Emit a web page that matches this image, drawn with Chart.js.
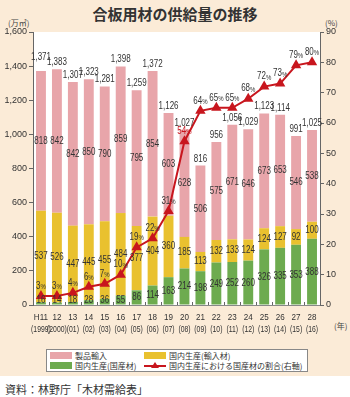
<!DOCTYPE html>
<html>
<head>
<meta charset="utf-8">
<script src="https://cdn.jsdelivr.net/npm/chart.js@4.4.1/dist/chart.umd.min.js"></script>
<style>
  body { margin:0; width:350px; height:397px; background:#fff; position:relative; overflow:hidden;
         font-family:"Noto Sans CJK JP", sans-serif; color:#333; }
  #bg { position:absolute; left:0; top:0; width:350px; height:376px; background:#fbebd7; }
  #title { position:absolute; top:3px; left:0; width:350px; text-align:center; font-size:15px; font-weight:bold; color:#333; }
  #wrap { position:absolute; left:0; top:0; width:350px; height:345px; }
  .unit { position:absolute; font-size:8px; color:#444; }
  #legend { position:absolute; left:46px; top:349px; width:260px; height:21px; background:#fff; border:1px solid #888; font-size:8px; }
  .item { position:absolute; display:flex; align-items:center; white-space:nowrap; }
  .sw { display:inline-block; width:22px; height:7px; margin-right:3px; }
  #src { position:absolute; left:5px; top:381px; font-size:11px; color:#333; }
</style>
</head>
<body>
<div id="bg"></div>
<div id="title">合板用材の供給量の推移</div>
<div class="unit" style="left:8px;top:17px">(万㎥)</div>
<div class="unit" style="left:325px;top:17px">(%)</div>
<div class="unit" style="left:334px;top:320px">(年)</div>
<div id="wrap"><canvas id="canvas"></canvas></div>
<div id="legend">
  <div class="item" style="left:3px;top:0px"><span class="sw" style="background:#e8a5aa"></span>製品輸入</div>
  <div class="item" style="left:97px;top:0px"><span class="sw" style="background:#e9c12f"></span>国内生産(輸入材)</div>
  <div class="item" style="left:3px;top:10px"><span class="sw" style="background:#6dab4f"></span>国内生産(国産材)</div>
  <div class="item" style="left:97px;top:10px"><svg width="22" height="9" style="margin-right:3px"><line x1="0" y1="5" x2="22" y2="5" stroke="#c8161e" stroke-width="2"/><polygon points="11,1 15,7 7,7" fill="#c8161e"/></svg>国内生産における国産材の割合(右軸)</div>
</div>
<div id="src">資料：林野庁「木材需給表」</div>

<script>
const years = [["H11","(1999)"],["12","(2000)"],["13","(01)"],["14","(02)"],["15","(03)"],["16","(04)"],
  ["17","(05)"],["18","(06)"],["19","(07)"],["20","(08)"],["21","(09)"],["22","(10)"],["23","(11)"],
  ["24","(12)"],["25","(13)"],["26","(14)"],["27","(15)"],["28","(16)"]];
const imports   = [818, 842, 842, 850, 790, 859, 795, 854, 603, 628, 506, 575, 671, 646, 673, 653, 546, 538];
const domImport = [537, 526, 447, 445, 455, 484, 377, 404, 360, 185, 113, 132, 133, 124, 124, 127, 92, 100];
const domWood   = [16, 14, 18, 28, 36, 55, 86, 114, 163, 214, 198, 249, 252, 260, 326, 335, 353, 388];
const totals    = [1371, 1383, 1307, 1323, 1281, 1398, 1259, 1372, 1126, 1027, 816, 956, 1056, 1029, 1123, 1114, 991, 1025];
const ratio     = [3, 3, 4, 6, 7, 10, 19, 22, 31, 54, 64, 65, 65, 68, 72, 73, 79, 80];

const FONT = '"Liberation Sans", Arial, sans-serif';

// narrow text: squeeze horizontally
function narrow(c, text, x, y, sx) {
  c.save();
  c.translate(x, y);
  c.scale(sx || 0.8, 1);
  c.fillText(text, 0, 0);
  c.restore();
}

const labelPlugin = {
  id: 'labels',
  beforeDraw(chart) {
    const a = chart.chartArea, c = chart.ctx;
    c.save();
    c.fillStyle = '#fff';
    c.fillRect(a.left, a.top, a.right - a.left, a.bottom - a.top);
    c.restore();
  },
  afterDraw(chart) {
    // year labels under the axis
    const c = chart.ctx, xs = chart.scales.x, a = chart.chartArea;
    c.save();
    c.fillStyle = '#333';
    c.textAlign = 'center';
    c.textBaseline = 'middle';
    c.font = '9.5px ' + FONT;
    years.forEach((yr, i) => {
      const x = xs.getPixelForValue(i);
      narrow(c, yr[0], x, a.bottom + 12, 0.85);
      narrow(c, yr[1], x, a.bottom + 24, 0.72);
    });
    c.restore();
  },
  afterDatasetsDraw(chart) {
    const c = chart.ctx, y = chart.scales.y, a = chart.chartArea;
    const bars = chart.getDatasetMeta(0).data;
    const pts = chart.getDatasetMeta(3).data;
    c.save();
    c.textAlign = 'center';
    c.textBaseline = 'middle';
    c.font = '10px ' + FONT;
    c.fillStyle = '#333';
    // small ticks between bars
    c.strokeStyle = '#666';
    c.lineWidth = 1;
    for (let i = 1; i < bars.length; i++) {
      const xx = Math.round((bars[i - 1].x + bars[i].x) / 2) + 0.5;
      c.beginPath(); c.moveTo(xx, a.bottom); c.lineTo(xx, a.bottom - 3); c.stroke();
    }
    bars.forEach((b, i) => {
      const x = b.x;
      const g0 = y.getPixelForValue(0), g1 = y.getPixelForValue(domWood[i]);
      const y1 = y.getPixelForValue(domWood[i] + domImport[i]);
      const p1 = y.getPixelForValue(domWood[i] + domImport[i] + imports[i]);
      c.fillStyle = '#333';
      narrow(c, domWood[i], x, Math.min((g0 + g1) / 2, a.bottom - 5));
      narrow(c, domImport[i], x, (g1 + y1) / 2);
      narrow(c, imports[i], x, (y1 + p1) / 2);
      const ty = y.getPixelForValue(totals[i]) - 7 - (i === 0 ? 7 : 0);
      narrow(c, totals[i].toLocaleString('en-US'), x, ty);
    });
    pts.forEach((p, i) => {
      const n = String(ratio[i]);
      c.font = '10px ' + FONT;
      const w1 = c.measureText(n).width * 0.8;
      c.font = '7.5px ' + FONT;
      const w2 = c.measureText('%').width * 0.8;
      const sx = p.x - (w1 + w2) / 2;
      const sy = p.y - 10;
      c.fillStyle = ratio[i] === 54 ? '#c8161e' : '#333';
      c.textAlign = 'left';
      c.font = '10px ' + FONT;
      narrow(c, n, sx, sy);
      c.font = '7.5px ' + FONT;
      narrow(c, '%', sx + w1, sy + 1);
    });
    c.restore();
  }
};

const ctx = document.getElementById('canvas').getContext('2d');
new Chart(ctx, {
  data: {
    labels: years,
    datasets: [
      { type: 'bar', label: '国内生産(国産材)', data: domWood, backgroundColor: '#6dab4f', order: 1 },
      { type: 'bar', label: '国内生産(輸入材)', data: domImport, backgroundColor: '#e9c12f', order: 1 },
      { type: 'bar', label: '製品輸入', data: imports, backgroundColor: '#e8a5aa', order: 1 },
      { type: 'line', label: '国内生産における国産材の割合(右軸)', data: ratio, yAxisID: 'y1',
        borderColor: '#c8161e', backgroundColor: '#c8161e', borderWidth: 2,
        pointStyle: 'triangle', pointRadius: 4, order: 0, tension: 0 }
    ]
  },
  options: {
    responsive: true,
    maintainAspectRatio: false,
    animation: false,
    layout: { padding: { top: 32, left: 0, right: 0, bottom: 0 } },
    datasets: { bar: { barPercentage: 0.62, categoryPercentage: 1 } },
    plugins: { legend: { display: false }, tooltip: { enabled: false } },
    scales: {
      x: {
        stacked: true,
        grid: { display: false },
        border: { display: true, color: '#888' },
        ticks: { display: false },
        afterFit(s) { s.height = 40; }
      },
      y: {
        stacked: true, min: 0, max: 1600,
        grid: { drawOnChartArea: false, tickLength: 4, color: '#666' },
        border: { display: true, color: '#666' },
        ticks: { stepSize: 200, color: '#333', font: { size: 9, family: FONT }, padding: 2 },
        afterFit(s) { s.width = 33; }
      },
      y1: {
        position: 'right', min: 0, max: 90,
        grid: { drawOnChartArea: false, tickLength: 4, color: '#666' },
        border: { display: true, color: '#666' },
        ticks: { stepSize: 10, color: '#333', font: { size: 9, family: FONT }, padding: 2 },
        afterFit(s) { s.width = 30; }
      }
    }
  },
  plugins: [labelPlugin]
});
</script>
</body>
</html>
